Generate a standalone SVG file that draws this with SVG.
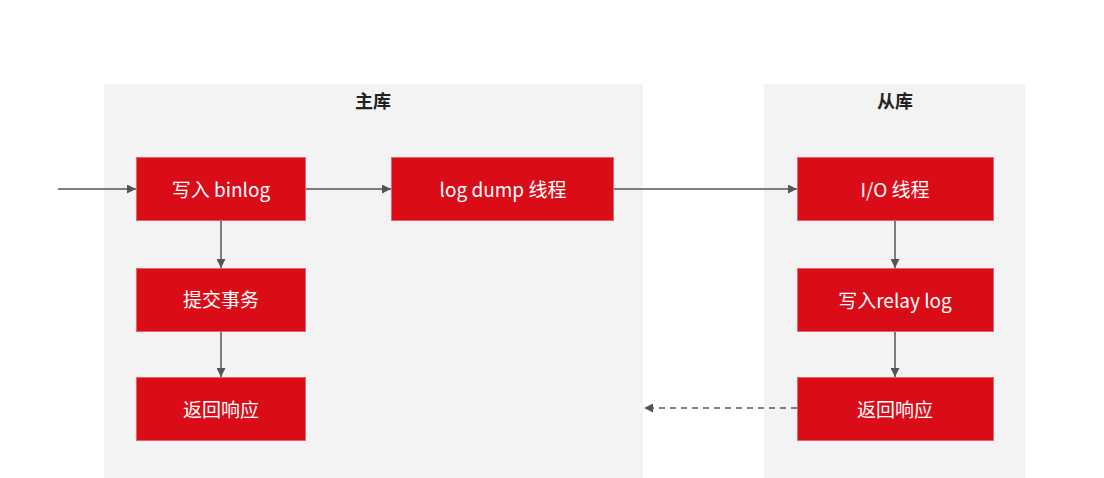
<svg xmlns="http://www.w3.org/2000/svg" width="1104" height="478" viewBox="0 0 1104 478">
<style>
.panel{fill:#f3f3f3}
.title{font-family:"Noto Sans CJK SC","Noto Sans",sans-serif;font-size:18px;font-weight:bold;fill:#222;text-anchor:middle}
.box{fill:#d90c17;stroke:#e8636a;stroke-width:1}
.lbl{font-family:"Noto Sans CJK SC","Noto Sans",sans-serif;font-size:19px;fill:#fff;text-anchor:middle;dominant-baseline:central}
.edge{stroke:#555;stroke-width:1.5;fill:none}
.dash{stroke-dasharray:6 5}
</style>
<defs>
<marker id="arr" viewBox="0 0 10 10" refX="10" refY="5" markerWidth="9" markerHeight="9" markerUnits="userSpaceOnUse" orient="auto">
<path d="M0,0 L10,5 L0,10 z" fill="#555"/>
</marker>
</defs>
<rect width="1104" height="478" fill="#fff"/>
<g id="master">
<rect class="panel" x="104" y="84" width="539" height="394"/>
<text class="title" x="373" y="108">主库</text>
</g>
<g id="slave">
<rect class="panel" x="764" y="84" width="261" height="394"/>
<text class="title" x="895" y="108">从库</text>
</g>
<g id="connectors">
<line class="edge" x1="58" y1="189" x2="136" y2="189" marker-end="url(#arr)"/>
<line class="edge" x1="306" y1="189" x2="391" y2="189" marker-end="url(#arr)"/>
<line class="edge" x1="614" y1="189" x2="797" y2="189" marker-end="url(#arr)"/>
<line class="edge" x1="221" y1="221" x2="221" y2="268" marker-end="url(#arr)"/>
<line class="edge" x1="221" y1="331" x2="221" y2="377" marker-end="url(#arr)"/>
<line class="edge" x1="895" y1="221" x2="895" y2="268" marker-end="url(#arr)"/>
<line class="edge" x1="895" y1="331" x2="895" y2="377" marker-end="url(#arr)"/>
<line class="edge dash" x1="797" y1="408" x2="644" y2="408" marker-end="url(#arr)"/>
</g>
<g id="n_binlog"><rect class="box" x="136.5" y="157.5" width="169" height="63"/><text class="lbl" x="221" y="188">写入 binlog</text></g>
<g id="n_commit"><rect class="box" x="136.5" y="268.5" width="169" height="63"/><text class="lbl" x="221" y="298">提交事务</text></g>
<g id="n_resp1"><rect class="box" x="136.5" y="377.5" width="169" height="63"/><text class="lbl" x="221" y="408">返回响应</text></g>
<g id="n_dump"><rect class="box" x="391.5" y="157.5" width="222" height="63"/><text class="lbl" x="503" y="188">log dump 线程</text></g>
<g id="n_io"><rect class="box" x="797.5" y="157.5" width="196" height="63"/><text class="lbl" x="895" y="188">I/O 线程</text></g>
<g id="n_relay"><rect class="box" x="797.5" y="268.5" width="196" height="63"/><text class="lbl" x="895" y="299">写入relay log</text></g>
<g id="n_resp2"><rect class="box" x="797.5" y="377.5" width="196" height="63"/><text class="lbl" x="895" y="408">返回响应</text></g>
</svg>
